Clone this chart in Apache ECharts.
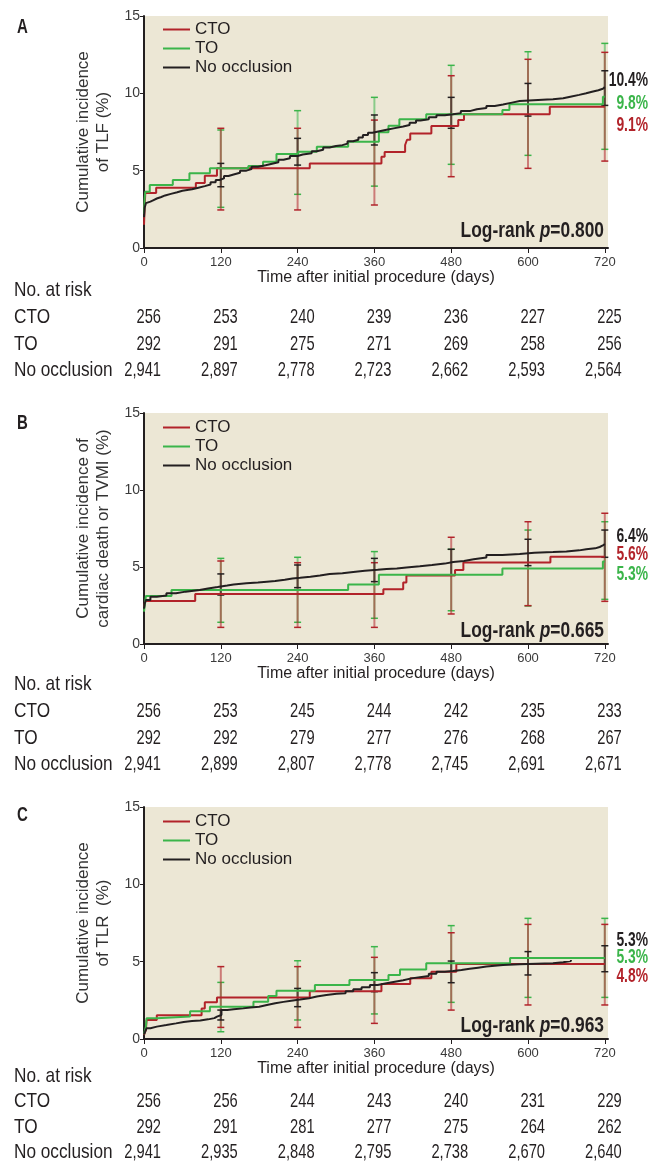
<!DOCTYPE html>
<html>
<head>
<meta charset="utf-8">
<script src="https://cdn.jsdelivr.net/npm/echarts@6/dist/echarts.min.js"></script>
<style>
  html, body { margin: 0; padding: 0; background: #fff; }
  #chart { width: 649px; height: 1165px; }
</style>
</head>
<body>
<div id="chart"></div>
<script>
const groups = ['CTO', 'TO', 'No occlusion']
const colors = ['#B2232A', '#3BB54A', '#231F20']
const tickDays = [0, 120, 240, 360, 480, 600, 720]
const tableRows = ['No. at risk', 'CTO', 'TO', 'No occlusion']
const panelLetters = ['A', 'B', 'C']
const yTitles = [
  'Cumulative incidence\nof TLF (%)',
  'Cumulative incidence of\ncardiac death or TVMI (%)',
  'Cumulative incidence\nof TLR  (%)'
]
const pValues = ['0.800', '0.665', '0.963']
const endTexts = [
  ['9.1%', '9.8%', '10.4%'],
  ['5.6%', '5.3%', '6.4%'],
  ['4.8%', '5.3%', '5.3%']
]
// y position (in %) where each end label sits
const endLabelY = [
  [7.95, 9.37, 10.86],
  [5.84, 4.55, 6.97],
  [4.03, 5.26, 6.4]
]

// step curves [day, cumulative %]
const curveA_CTO = [[0,1.5],[1,2.65],[2,3.55],[19,3.9],[81,4.2],[95,4.67],[114,5.15],[259,5.47],[371,5.9],[376,6.2],[408,6.66],[411,7.0],[416,7.41],[449,7.89],[491,8.27],[500,8.64],[634,9.13],[720,9.13]]
const curveA_TO = [[0,2.2],[1,3.2],[2,3.64],[9,4.07],[45,4.4],[71,4.83],[103,5.15],[163,5.3],[186,5.58],[207,6.08],[241,6.23],[270,6.55],[319,6.87],[367,7.48],[382,7.9],[399,8.32],[441,8.64],[560,8.92],[571,9.29],[717,9.78],[720,9.78]]
const curveA_NO = [[0,2.0],[1,2.6],[3,2.9],[6,3.0],[10,3.1],[15,3.2],[20,3.3],[27,3.4],[33,3.5],[42,3.6],[52,3.7],[60,3.8],[75,3.9],[85,4.0],[95,4.1],[104,4.25],[112,4.4],[118,4.5],[125,4.65],[132,4.75],[140,4.87],[150,5.0],[160,5.1],[168,5.25],[178,5.35],[190,5.45],[200,5.55],[210,5.7],[218,5.8],[228,5.95],[240,6.05],[248,6.12],[262,6.25],[270,6.35],[280,6.5],[290,6.6],[300,6.65],[310,6.75],[318,6.9],[327,7.0],[335,7.15],[342,7.3],[350,7.45],[357,7.55],[368,7.65],[379,7.75],[392,7.85],[405,7.95],[415,8.1],[425,8.25],[432,8.32],[445,8.45],[457,8.58],[470,8.65],[483,8.72],[495,8.85],[509,8.97],[520,9.05],[535,9.18],[548,9.28],[561,9.4],[575,9.5],[587,9.6],[630,9.62],[639,9.68],[655,9.8],[668,9.9],[680,10.0],[691,10.1],[700,10.2],[710,10.3],[717,10.4],[720,10.4]]

const curveB_CTO = [[0,2.4],[2,2.79],[80,3.25],[374,3.55],[405,4.0],[410,4.44],[486,4.8],[499,5.3],[635,5.67],[720,5.67]]
const curveB_TO = [[0,2.1],[2,2.8],[3,3.12],[43,3.5],[319,3.87],[367,4.5],[560,4.91],[717,5.35],[720,5.35]]
const curveB_NO = [[0,2.3],[1,2.6],[3,2.86],[10,3.07],[20,3.15],[35,3.29],[50,3.4],[65,3.5],[87,3.61],[100,3.7],[115,3.8],[130,3.87],[140,3.94],[160,4.0],[178,4.05],[192,4.09],[205,4.17],[220,4.25],[232,4.3],[244,4.37],[260,4.45],[275,4.55],[290,4.6],[310,4.68],[327,4.76],[345,4.82],[365,4.87],[379,4.91],[395,4.97],[410,5.05],[431,5.13],[450,5.22],[470,5.32],[483,5.39],[500,5.5],[515,5.62],[535,5.78],[560,5.85],[587,5.93],[610,5.97],[639,6.0],[660,6.08],[680,6.15],[691,6.21],[705,6.3],[712,6.4],[717,6.49],[720,6.49]]

const curveC_CTO = [[0,0.26],[3,0.6],[4,1.23],[20,1.53],[90,1.98],[95,2.37],[114,2.69],[259,3.09],[371,3.55],[416,3.92],[449,4.35],[488,4.85],[720,4.85]]
const curveC_TO = [[0,0.3],[3,0.8],[4,1.34],[20,1.45],[72,1.79],[103,2.09],[171,2.41],[194,2.78],[207,3.12],[267,3.49],[321,3.81],[382,4.14],[400,4.5],[441,4.89],[572,5.23],[720,5.23]]
const curveC_NO = [[0,0.3],[2,0.5],[4,0.69],[10,0.8],[20,0.9],[35,1.01],[50,1.1],[62,1.16],[75,1.2],[88,1.27],[100,1.35],[110,1.45],[114,1.55],[121,1.87],[130,1.93],[140,1.98],[155,2.03],[166,2.09],[180,2.2],[192,2.31],[205,2.4],[218,2.48],[230,2.55],[244,2.63],[258,2.75],[270,2.84],[285,2.92],[301,2.95],[315,3.08],[327,3.21],[340,3.35],[353,3.49],[365,3.6],[379,3.7],[392,3.8],[405,3.92],[418,4.0],[431,4.07],[445,4.22],[457,4.35],[470,4.4],[483,4.46],[496,4.54],[509,4.61],[522,4.68],[535,4.74],[548,4.79],[561,4.83],[587,4.89],[639,4.96],[655,5.05],[667,5.1]]

// 95% CI bars [day, low, high]
const ciA_CTO = [[120,2.46,7.74],[240,2.46,7.74],[360,2.78,8.27],[480,4.61,11.14],[600,5.15,12.2],[720,5.62,12.65]]
const ciA_TO = [[120,2.63,7.63],[240,3.47,8.88],[360,4.0,9.74],[480,5.41,11.81],[600,5.99,12.69],[720,6.38,13.23]]
const ciA_NO = [[120,3.96,5.47],[240,5.36,7.09],[360,6.66,8.6],[480,7.74,9.74],[600,8.53,10.64],[720,9.22,11.46]]
const ciB_CTO = [[120,1.08,5.39],[240,1.08,5.28],[360,1.08,5.28],[480,1.95,6.93],[600,2.49,7.94],[720,2.77,8.49]]
const ciB_TO = [[120,1.41,5.56],[240,1.41,5.63],[360,1.67,6.0],[480,2.16,6.15],[600,2.47,7.4],[720,2.9,7.94]]
const ciB_NO = [[120,3.18,4.55],[240,3.66,5.13],[360,4.05,5.56],[480,4.48,6.15],[600,5.09,6.8],[720,5.63,7.4]]
const ciC_CTO = [[120,0.75,4.68],[240,0.75,4.68],[360,1.01,5.28],[480,1.87,6.87],[600,2.2,7.41],[720,2.2,7.41]]
const ciC_TO = [[120,0.47,3.66],[240,1.23,5.06],[360,1.62,5.97],[480,2.37,7.33],[600,2.69,7.8],[720,2.69,7.8]]
const ciC_NO = [[120,1.23,1.87],[240,2.09,3.27],[360,3.06,4.29],[480,3.64,5.04],[600,4.14,5.65],[720,4.35,6.03]]

// number at risk
const riskA_CTO = [256, 253, 240, 239, 236, 227, 225]
const riskA_TO = [292, 291, 275, 271, 269, 258, 256]
const riskA_NO = [2941, 2897, 2778, 2723, 2662, 2593, 2564]
const riskB_CTO = [256, 253, 245, 244, 242, 235, 233]
const riskB_TO = [292, 292, 279, 277, 276, 268, 267]
const riskB_NO = [2941, 2899, 2807, 2778, 2745, 2691, 2671]
const riskC_CTO = [256, 256, 244, 243, 240, 231, 229]
const riskC_TO = [292, 291, 281, 277, 275, 264, 262]
const riskC_NO = [2941, 2935, 2848, 2795, 2738, 2670, 2640]

const curves = [[curveA_CTO, curveA_TO, curveA_NO], [curveB_CTO, curveB_TO, curveB_NO], [curveC_CTO, curveC_TO, curveC_NO]]
const cis = [[ciA_CTO, ciA_TO, ciA_NO], [ciB_CTO, ciB_TO, ciB_NO], [ciC_CTO, ciC_TO, ciC_NO]]
const risks = [[riskA_CTO, riskA_TO, riskA_NO], [riskB_CTO, riskB_TO, riskB_NO], [riskC_CTO, riskC_TO, riskC_NO]]

// no condensed face is installed, so condensed text is squeezed with scaleX
const FONT = "'Liberation Sans', Arial, sans-serif"
const INK = '#231F20'
const BG = '#ECE7D5'

const plotTops = [16, 413, 807]
const plotHeights = [232, 231, 232]
const tableTops = [277, 671, 1063]
const tableHeights = [107, 107, 104]
const xNameGaps = [22, 16, 16]
const legendTops = [21, 419, 813]
const pTextY = [231, 631, 1026]
const letterY = [27, 423, 815]

const chart = echarts.init(document.getElementById('chart'), null, { renderer: 'canvas' })

const grids = []
const xAxes = []
const yAxes = []
const series = []
const legends = []
const graphics = []

for (let p = 0; p < 3; p++) {
  grids.push({ left: 144, width: 464, top: plotTops[p], height: plotHeights[p], show: true, backgroundColor: BG, borderWidth: 0 })
  xAxes.push({
    gridIndex: p, type: 'value', min: 0, max: 725,
    name: 'Time after initial procedure (days)', nameLocation: 'middle', nameGap: xNameGaps[p],
    nameTextStyle: { fontFamily: FONT, fontSize: 16, color: INK, verticalAlign: 'top' },
    axisLine: { lineStyle: { color: INK, width: 2 } },
    axisTick: { length: 5, lineStyle: { color: INK, width: 1 }, customValues: tickDays },
    axisLabel: { customValues: tickDays, fontFamily: FONT, fontSize: 13, color: '#3a3a3a', margin: 8 },
    splitLine: { show: false }
  })
  yAxes.push({
    gridIndex: p, type: 'value', min: 0, max: 15, interval: 5,
    name: yTitles[p], nameLocation: 'middle', nameGap: 29, nameRotate: 90,
    nameTextStyle: { fontFamily: FONT, fontSize: 17, lineHeight: 20, color: '#333', align: 'center' },
    axisLine: { show: true, lineStyle: { color: INK, width: 2 } },
    axisTick: { show: true, length: 4, lineStyle: { color: INK } },
    axisLabel: { fontFamily: FONT, fontSize: 14, color: '#3a3a3a', margin: 4 },
    splitLine: { show: false }
  })
}
for (let p = 0; p < 3; p++) {
  grids.push({ left: 144, width: 464, top: tableTops[p], height: tableHeights[p] })
  xAxes.push({ gridIndex: 3 + p, type: 'value', min: 0, max: 725, show: false })
  yAxes.push({ gridIndex: 3 + p, type: 'category', inverse: true, data: tableRows, show: false })
}

const errorBarItem = color => (params, api) => {
  const d = api.value(0)
  const lo = api.coord([d, api.value(1)])
  const hi = api.coord([d, api.value(2)])
  return {
    type: 'group',
    children: [
      { type: 'line', shape: { x1: lo[0], y1: lo[1], x2: hi[0], y2: hi[1] }, style: { stroke: color, lineWidth: 2, opacity: 0.55 } },
      { type: 'line', shape: { x1: lo[0] - 3.5, y1: lo[1], x2: lo[0] + 3.5, y2: lo[1] }, style: { stroke: color, lineWidth: 1.5 } },
      { type: 'line', shape: { x1: hi[0] - 3.5, y1: hi[1], x2: hi[0] + 3.5, y2: hi[1] }, style: { stroke: color, lineWidth: 1.5 } }
    ]
  }
}

for (let p = 0; p < 3; p++) {
  // TO first so the red bars sit on top, as in the print
  for (const g of [1, 0, 2]) {
    series.push({
      type: 'custom', name: 'ci-' + p + '-' + g, xAxisIndex: p, yAxisIndex: p, z: 2,
      data: cis[p][g], renderItem: errorBarItem(colors[g])
    })
  }
  for (let g = 0; g < 3; g++) {
    series.push({
      type: 'line', name: groups[g], xAxisIndex: p, yAxisIndex: p, z: 3,
      data: curves[p][g], step: 'end', showSymbol: false,
      lineStyle: { color: colors[g], width: 2 }, itemStyle: { color: colors[g] }
    })
    series.push({
      type: 'custom', name: 'end-' + p + '-' + g, xAxisIndex: p, yAxisIndex: p, z: 4, clip: false,
      data: [[725, endLabelY[p][g]]],
      renderItem: (params, api) => {
        const pt = api.coord([api.value(0), api.value(1)])
        return {
          type: 'text', x: pt[0] + 40, y: pt[1], scaleX: 0.66,
          style: { text: endTexts[p][g], fontFamily: FONT, fontSize: 21, fontWeight: 'bold', fill: colors[g], align: 'right', verticalAlign: 'middle' }
        }
      }
    })
    series.push({
      type: 'custom', name: 'risk-' + p + '-' + g, xAxisIndex: 3 + p, yAxisIndex: 3 + p, clip: false,
      data: risks[p][g].map((n, i) => [tickDays[i], groups[g], n]),
      renderItem: (params, api) => {
        const pt = api.coord([api.value(0), api.value(1)])
        return {
          type: 'text', x: pt[0] + 17, y: pt[1], scaleX: 0.7,
          style: { text: api.value(2).toLocaleString('en-US'), fontFamily: FONT, fontSize: 21, fill: INK, align: 'right', verticalAlign: 'middle' }
        }
      }
    })
  }
  series.push({
    type: 'custom', name: 'rows-' + p, xAxisIndex: 3 + p, yAxisIndex: 3 + p, clip: false,
    data: tableRows.map(r => [0, r]),
    renderItem: (params, api) => {
      const pt = api.coord([api.value(0), api.value(1)])
      return {
        type: 'text', x: 14, y: pt[1], scaleX: 0.82,
        style: { text: tableRows[params.dataIndex], fontFamily: FONT, fontSize: 21, fill: INK, align: 'left', verticalAlign: 'middle' }
      }
    }
  })
  legends.push({
    left: 163, top: legendTops[p], orient: 'vertical', padding: 0, itemGap: 2,
    data: groups, icon: 'rect', itemWidth: 27, itemHeight: 2, selectedMode: false,
    textStyle: { fontFamily: FONT, fontSize: 17, lineHeight: 17, color: INK }
  })
  graphics.push({
    type: 'text', x: 604, y: pTextY[p], scaleX: 0.79,
    style: {
      text: '{a|Log-rank }{i|p}{a|=' + pValues[p] + '}',
      align: 'right', verticalAlign: 'middle',
      rich: {
        a: { fontFamily: FONT, fontSize: 22, fontWeight: 'bold', fill: INK },
        i: { fontFamily: FONT, fontSize: 22, fontWeight: 'bold', fontStyle: 'italic', fill: INK }
      }
    }
  })
  graphics.push({
    type: 'text', x: 17, y: letterY[p], scaleX: 0.75,
    style: { text: panelLetters[p], fontFamily: FONT, fontSize: 20, fontWeight: 'bold', fill: INK, verticalAlign: 'middle' }
  })
}

chart.setOption({
  animation: false,
  backgroundColor: '#fff',
  grid: grids,
  xAxis: xAxes,
  yAxis: yAxes,
  legend: legends,
  graphic: graphics,
  series: series
})
</script>
</body>
</html>
